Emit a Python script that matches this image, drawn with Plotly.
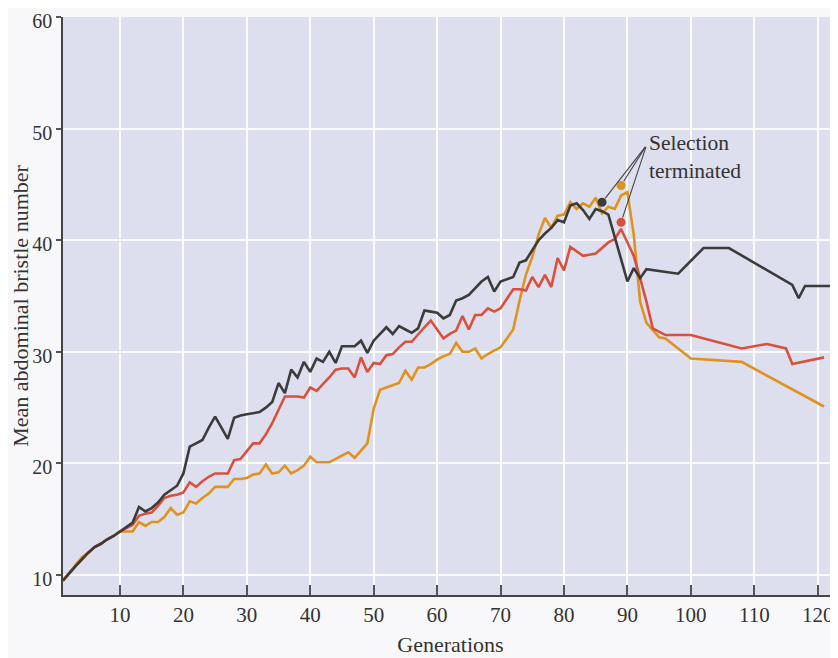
import plotly.graph_objects as go

# ---- data ----
gen_black = [1, 2, 3, 4, 5, 6, 7, 8, 9, 10, 11, 12, 13, 14, 15, 16, 17, 18, 19, 20,
             21, 22, 23, 24, 25, 26, 27, 28, 29, 30, 31, 32, 33, 34, 35, 36, 37, 38, 39, 40,
             41, 42, 43, 44, 45, 46, 47, 48, 49, 50, 51, 52, 53, 54, 55, 56, 57, 58, 59, 60,
             61, 62, 63, 64, 65, 66, 67, 68, 69, 70, 71, 72, 73, 74, 75, 76, 77, 78, 79, 80,
             81, 82, 83, 84, 85, 86, 87, 90, 91, 92, 93, 98, 102, 106, 116, 117, 118, 122]
val_black = [9.5, 10.2, 10.8, 11.4, 12.0, 12.5, 12.8, 13.2, 13.5, 13.9, 14.3, 14.7, 16.1, 15.7, 16.0, 16.5, 17.2, 17.6, 18.0, 19.1,
             21.5, 21.8, 22.1, 23.2, 24.2, 23.2, 22.2, 24.1, 24.3, 24.4, 24.5, 24.6, 25.0, 25.5, 27.2, 26.3, 28.4, 27.7, 29.1, 28.2,
             29.4, 29.1, 30.0, 29.0, 30.5, 30.5, 30.5, 31.0, 29.9, 31.0, 31.6, 32.2, 31.6, 32.3, 32.0, 31.7, 32.1, 33.7, 33.6, 33.5,
             33.0, 33.3, 34.6, 34.8, 35.1, 35.7, 36.3, 36.7, 35.4, 36.3, 36.5, 36.7, 38.0, 38.2, 39.1, 40.0, 40.6, 41.1, 41.8, 41.6,
             43.1, 43.3, 42.7, 41.9, 42.8, 42.6, 42.3, 36.3, 37.5, 36.6, 37.4, 37.0, 39.3, 39.3, 36.0, 34.8, 35.9, 35.9]

gen_red = [1, 2, 3, 4, 5, 6, 7, 8, 9, 10, 11, 12, 13, 14, 15, 16, 17, 18, 19, 20,
           21, 22, 23, 24, 25, 26, 27, 28, 29, 30, 31, 32, 33, 34, 35, 36, 37, 38, 39, 40,
           41, 42, 43, 44, 45, 46, 47, 48, 49, 50, 51, 52, 53, 54, 55, 56, 57, 58, 59, 60,
           61, 62, 63, 64, 65, 66, 67, 68, 69, 70, 71, 72, 73, 74, 75, 76, 77, 78, 79, 80,
           81, 82, 83, 84, 85, 86, 87, 88, 89, 90, 91, 92, 93, 94, 96, 100, 108, 112, 115, 116, 121]
val_red = [9.5, 10.2, 10.8, 11.4, 12.0, 12.5, 12.8, 13.2, 13.5, 13.9, 14.2, 14.5, 15.3, 15.5, 15.6, 16.2, 16.9, 17.1, 17.2, 17.4,
           18.3, 17.9, 18.4, 18.8, 19.1, 19.1, 19.1, 20.3, 20.4, 21.1, 21.8, 21.8, 22.6, 23.6, 24.8, 26.0, 26.0, 26.0, 25.9, 26.8,
           26.5, 27.1, 27.7, 28.4, 28.5, 28.5, 27.7, 29.5, 28.2, 29.0, 28.9, 29.7, 29.8, 30.4, 30.9, 30.9, 31.6, 32.2, 32.8, 32.0,
           31.2, 31.6, 31.9, 33.2, 32.0, 33.3, 33.3, 33.9, 33.6, 33.9, 34.7, 35.6, 35.6, 35.5, 36.7, 35.8, 36.9, 35.8, 38.4, 37.3,
           39.4, 39.0, 38.6, 38.7, 38.8, 39.3, 39.8, 40.1, 41.0, 39.8, 38.6, 36.6, 34.5, 32.1, 31.5, 31.5, 30.3, 30.7, 30.3, 28.9, 29.5]

gen_orange = [1, 2, 3, 4, 5, 6, 7, 8, 9, 10, 11, 12, 13, 14, 15, 16, 17, 18, 19, 20,
              21, 22, 23, 24, 25, 26, 27, 28, 29, 30, 31, 32, 33, 34, 35, 36, 37, 38, 39, 40,
              41, 42, 43, 44, 45, 46, 47, 48, 49, 50, 51, 52, 53, 54, 55, 56, 57, 58, 59, 60,
              61, 62, 63, 64, 65, 66, 67, 68, 69, 70, 71, 72, 73, 74, 75, 76, 77, 78, 79, 80,
              81, 82, 83, 84, 85, 86, 87, 88, 89, 90, 91, 92, 93, 95, 96, 100, 108, 116, 118, 121]
val_orange = [9.5, 10.2, 10.9, 11.6, 12.0, 12.5, 12.8, 13.2, 13.5, 13.9, 13.9, 13.9, 14.75, 14.4, 14.75, 14.75, 15.2, 16.0, 15.4, 15.6,
              16.6, 16.4, 16.9, 17.3, 17.9, 17.9, 17.9, 18.6, 18.6, 18.7, 19.0, 19.1, 19.9, 19.1, 19.2, 19.8, 19.1, 19.4, 19.8, 20.6,
              20.1, 20.1, 20.1, 20.4, 20.7, 21.0, 20.5, 21.2, 21.8, 24.9, 26.6, 26.8, 27.0, 27.2, 28.3, 27.5, 28.6, 28.6, 28.9, 29.3,
              29.6, 29.8, 30.8, 30.0, 30.0, 30.3, 29.4, 29.8, 30.1, 30.4, 31.2, 32.0, 34.6, 36.9, 38.5, 40.5, 42.0, 41.1, 42.2, 42.3,
              43.4, 42.8, 43.3, 43.0, 43.8, 42.4, 43.0, 42.8, 44.0, 44.3, 40.5, 34.5, 32.6, 31.3, 31.2, 29.4, 29.1, 26.6, 26.0, 25.1, 25.4]

# generation at which selection was terminated (dots)
stop_gen = [86, 89, 89]
stop_val = [43.4, 44.9, 41.6]
stop_col = ["#3b3b3b", "#e0921f", "#d9503c"]

x_ticks = [10, 20, 30, 40, 50, 60, 70, 80, 90, 100, 110, 120]
y_ticks = [10, 20, 30, 40, 50, 60]

FONT = "Liberation Serif"
INK = "#333333"

fig = go.Figure()
fig.add_trace(go.Scatter(x=gen_orange, y=val_orange, mode="lines",
                         line=dict(color="#e0921f", width=2.6), hoverinfo="skip"))
fig.add_trace(go.Scatter(x=gen_red, y=val_red, mode="lines",
                         line=dict(color="#d9503c", width=2.6), hoverinfo="skip"))
fig.add_trace(go.Scatter(x=gen_black, y=val_black, mode="lines",
                         line=dict(color="#3b3b3b", width=2.6), hoverinfo="skip"))
fig.add_trace(go.Scatter(x=stop_gen, y=stop_val, mode="markers",
                         marker=dict(color=stop_col, size=9), hoverinfo="skip"))

# label and leader lines
label_x, label_y = 93.0, 48.5
fig.add_annotation(x=label_x + 0.1, y=47.5, xref="x", yref="y", text="Selection<br>terminated",
                   showarrow=False, xanchor="left", yanchor="middle", align="left",
                   font=dict(family=FONT, size=21.5, color=INK))
for gx, gy in zip(stop_gen, stop_val):
    fig.add_annotation(x=gx, y=gy, xref="x", yref="y", ax=label_x, ay=label_y,
                       axref="x", ayref="y", text="", showarrow=True, arrowhead=0,
                       arrowwidth=1.1, arrowcolor="#444444", standoff=5)

# the page body keeps its 8px default margin, so the figure is sized to the remaining window
fig.update_layout(
    width=830, height=650,
    margin=dict(l=55, r=0, t=9, b=63),
    plot_bgcolor="#dedfee",
    paper_bgcolor="#f8f8fa",
    showlegend=False,
    font=dict(family=FONT, color=INK, size=21),
)
fig.update_xaxes(range=[1.02, 123.2], tickvals=x_ticks, ticks="inside", ticklen=10,
                 tickwidth=1.5, tickcolor="#555555", showline=True, linecolor="#444444",
                 linewidth=1.5, showgrid=True, gridcolor="rgba(255,255,255,0.85)", gridwidth=2,
                 zeroline=False, automargin=False, ticklabeloverflow="allow",
                 tickfont=dict(family=FONT, size=21, color=INK),
                 title=dict(text="Generations", font=dict(family=FONT, size=22, color=INK), standoff=11))
fig.update_yaxes(range=[8.21, 60], tickvals=y_ticks, ticks="outside", ticklen=5,
                 tickwidth=1.5, tickcolor="#555555", showline=True, linecolor="#444444",
                 linewidth=1.5, showgrid=True, gridcolor="rgba(255,255,255,0.85)", gridwidth=2,
                 zeroline=False, automargin=False, ticklabeloverflow="allow", ticklabelshift=4,
                 tickfont=dict(family=FONT, size=20, color=INK),
                 title=dict(text="Mean abdominal bristle number", font=dict(family=FONT, size=22, color=INK), standoff=2))

fig.write_html("out.html")
